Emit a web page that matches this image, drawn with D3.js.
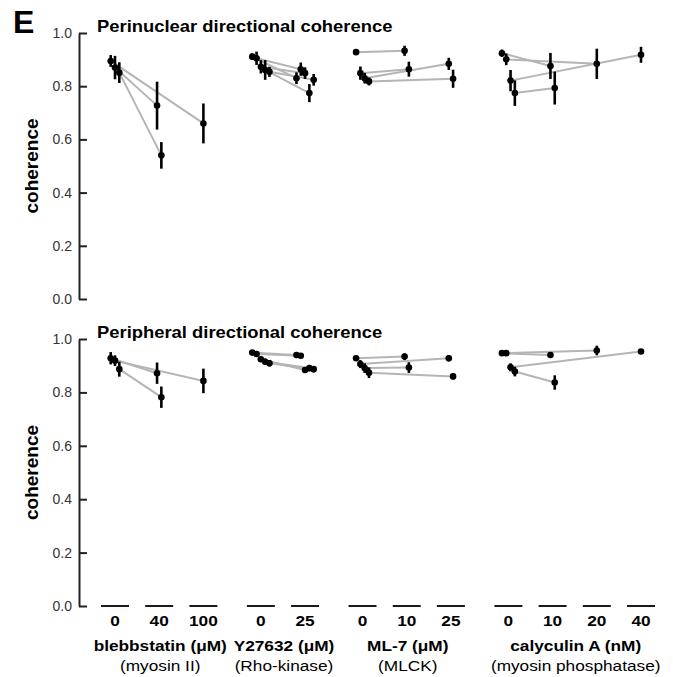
<!DOCTYPE html>
<html>
<head>
<meta charset="utf-8">
<script src="https://cdn.jsdelivr.net/npm/d3@7"></script>
<style>
  body { margin: 0; background: #fff; }
  svg { display: block; }
  text { font-family: "Liberation Sans", Arial, Helvetica, sans-serif; }
</style>
</head>
<body>
<svg width="673" height="677"></svg>
<script>
// drug groups along the x axis
const groupNames = ['blebbstatin (μM)', 'Y27632 (μM)', 'ML-7 (μM)', 'calyculin A (nM)'];
const groupTargets = ['(myosin II)', '(Rho-kinase)', '(MLCK)', '(myosin phosphatase)'];
const groupDoses = [[0, 40, 100], [0, 25], [0, 10, 25], [0, 10, 20, 40]];
const yTicks = [0, 0.2, 0.4, 0.6, 0.8, 1.0];
const panelTitles = ['Perinuclear directional coherence', 'Peripheral directional coherence'];

// paired experiments: [group, dose, control mean, control err, treated mean, treated err]
const perinuclear = [
  [0, 100, 0.895, 0.022, 0.660, 0.075],
  [0, 40, 0.870, 0.044, 0.727, 0.090],
  [0, 40, 0.851, 0.039, 0.540, 0.050],
  [1, 25, 0.911, 0.012, 0.830, 0.022],
  [1, 25, 0.905, 0.025, 0.864, 0.025],
  [1, 25, 0.873, 0.025, 0.849, 0.022],
  [1, 25, 0.861, 0.037, 0.774, 0.034],
  [1, 25, 0.854, 0.019, 0.824, 0.022],
  [2, 10, 0.928, 0.008, 0.933, 0.019],
  [2, 10, 0.849, 0.025, 0.864, 0.028],
  [2, 25, 0.830, 0.020, 0.884, 0.023],
  [2, 25, 0.818, 0.015, 0.828, 0.034],
  [3, 10, 0.924, 0.014, 0.876, 0.049],
  [3, 20, 0.901, 0.022, 0.884, 0.057],
  [3, 40, 0.821, 0.040, 0.918, 0.030],
  [3, 10, 0.774, 0.048, 0.793, 0.062]
];

const peripheral = [
  [0, 40, 0.928, 0.023, 0.872, 0.040],
  [0, 100, 0.919, 0.020, 0.843, 0.046],
  [0, 40, 0.887, 0.028, 0.782, 0.040],
  [1, 25, 0.949, 0.008, 0.940, 0.006],
  [1, 25, 0.944, 0.010, 0.937, 0.006],
  [1, 25, 0.924, 0.010, 0.884, 0.010],
  [1, 25, 0.915, 0.012, 0.891, 0.012],
  [1, 25, 0.909, 0.012, 0.887, 0.012],
  [2, 10, 0.928, 0.006, 0.934, 0.012],
  [2, 25, 0.906, 0.015, 0.928, 0.012],
  [2, 10, 0.891, 0.018, 0.893, 0.020],
  [2, 25, 0.874, 0.020, 0.860, 0.012],
  [3, 10, 0.947, 0.005, 0.940, 0.007],
  [3, 20, 0.947, 0.005, 0.957, 0.018],
  [3, 40, 0.894, 0.015, 0.953, 0.005],
  [3, 10, 0.878, 0.018, 0.837, 0.027]
];

const svg = d3.select('svg');
const axisX = 79;
const jitter = 4.3;   // px between points sharing a dose
const groupGap = 0.3; // extra slot space between drug groups
const stretch = 1.15; // labels in the figure are a bit wider than Arial

// slot index for every (group, dose)
let cats = [];
let slot = 0;
groupDoses.forEach((doses, g) => {
  doses.forEach(d => { cats.push({g: g, dose: d, slot: slot}); slot += 1; });
  slot += groupGap;
});
const lastSlot = cats[cats.length - 1].slot;
const x = d3.scaleLinear().domain([0, lastSlot]).range([115, 641]);
const catX = (g, d) => x(cats.find(c => c.g == g && c.dose == d).slot);

function label(parent, str, px, py, opts) {
  const t = parent.append('text')
    .attr('transform', `translate(${px},${py}) scale(${opts.sx || 1},1)` + (opts.rot ? ` rotate(${opts.rot})` : ''))
    .attr('text-anchor', opts.anchor || 'middle')
    .attr('font-size', opts.size)
    .attr('font-weight', opts.bold ? 'bold' : 'normal')
    .attr('fill', opts.fill || '#000')
    .text(str);
  return t;
}

label(svg, 'E', 13, 33, {size: 32, bold: true, anchor: 'start'});

const panels = [
  {title: panelTitles[0], data: perinuclear, range: [299, 33]},
  {title: panelTitles[1], data: peripheral, range: [606, 339]}
];

panels.forEach(p => {
  const y = d3.scaleLinear().domain([0, 1]).range(p.range);
  const g = svg.append('g');

  // y axis, ticks pointing into the plot
  const ax = g.append('g')
    .attr('transform', `translate(${axisX},0)`)
    .call(d3.axisLeft(y).tickValues(yTicks).tickFormat(d3.format('.1f'))
      .tickSizeInner(-8).tickSizeOuter(0).tickPadding(7));
  ax.select('.domain').attr('stroke', '#222').attr('stroke-width', 2);
  ax.selectAll('.tick line').attr('stroke', '#222').attr('stroke-width', 2);
  ax.selectAll('.tick text')
    .attr('font-family', '"Liberation Sans", Arial, sans-serif')
    .attr('font-size', 14).attr('fill', '#333');

  label(g, p.title, 97, y(1) - 1.5, {size: 16, bold: true, anchor: 'start', sx: stretch});
  label(g, 'coherence', 38, (p.range[0] + p.range[1]) / 2, {size: 19, bold: true, rot: -90});

  // build points, jittered by order inside each dose
  let counts = {};
  let pts = p.data.map(r => {
    const kc = r[0] + '-0', kt = r[0] + '-' + r[1];
    counts[kc] = (counts[kc] || 0) + 1;
    counts[kt] = (counts[kt] || 0) + 1;
    return {
      c: {key: kc, i: counts[kc] - 1, g: r[0], d: 0, v: r[2], e: r[3]},
      t: {key: kt, i: counts[kt] - 1, g: r[0], d: r[1], v: r[4], e: r[5]}
    };
  });
  const px = q => catX(q.g, q.d) + (q.i - (counts[q.key] - 1) / 2) * jitter;

  g.selectAll('.pair').data(pts).enter().append('line')
    .attr('x1', d => px(d.c)).attr('y1', d => y(d.c.v))
    .attr('x2', d => px(d.t)).attr('y2', d => y(d.t.v))
    .attr('stroke', '#b5b5b5').attr('stroke-width', 2);

  const all = pts.flatMap(d => [d.c, d.t]);
  g.selectAll('.err').data(all).enter().append('line')
    .attr('x1', px).attr('x2', px)
    .attr('y1', d => y(d.v - d.e)).attr('y2', d => y(d.v + d.e))
    .attr('stroke', '#000').attr('stroke-width', 2.6);
  g.selectAll('.dot').data(all).enter().append('circle')
    .attr('cx', px).attr('cy', d => y(d.v)).attr('r', 3.3)
    .attr('fill', '#000');
});

// category bars and labels under the lower panel
const yBase = 606;
svg.selectAll('.catbar').data(cats).enter().append('line')
  .attr('x1', d => x(d.slot) - 14).attr('x2', d => x(d.slot) + 14)
  .attr('y1', yBase).attr('y2', yBase)
  .attr('stroke', '#000').attr('stroke-width', 1.8);
cats.forEach(c => label(svg, String(c.dose), x(c.slot), 626, {size: 15, bold: true, sx: stretch}));

groupNames.forEach((name, gi) => {
  const cs = cats.filter(c => c.g == gi);
  const mid = (x(cs[0].slot) + x(cs[cs.length - 1].slot)) / 2 + 1;
  label(svg, name, mid, 651, {size: 15, bold: true, sx: stretch});
  label(svg, groupTargets[gi], mid, 671, {size: 15, sx: stretch});
});
</script>
</body>
</html>
